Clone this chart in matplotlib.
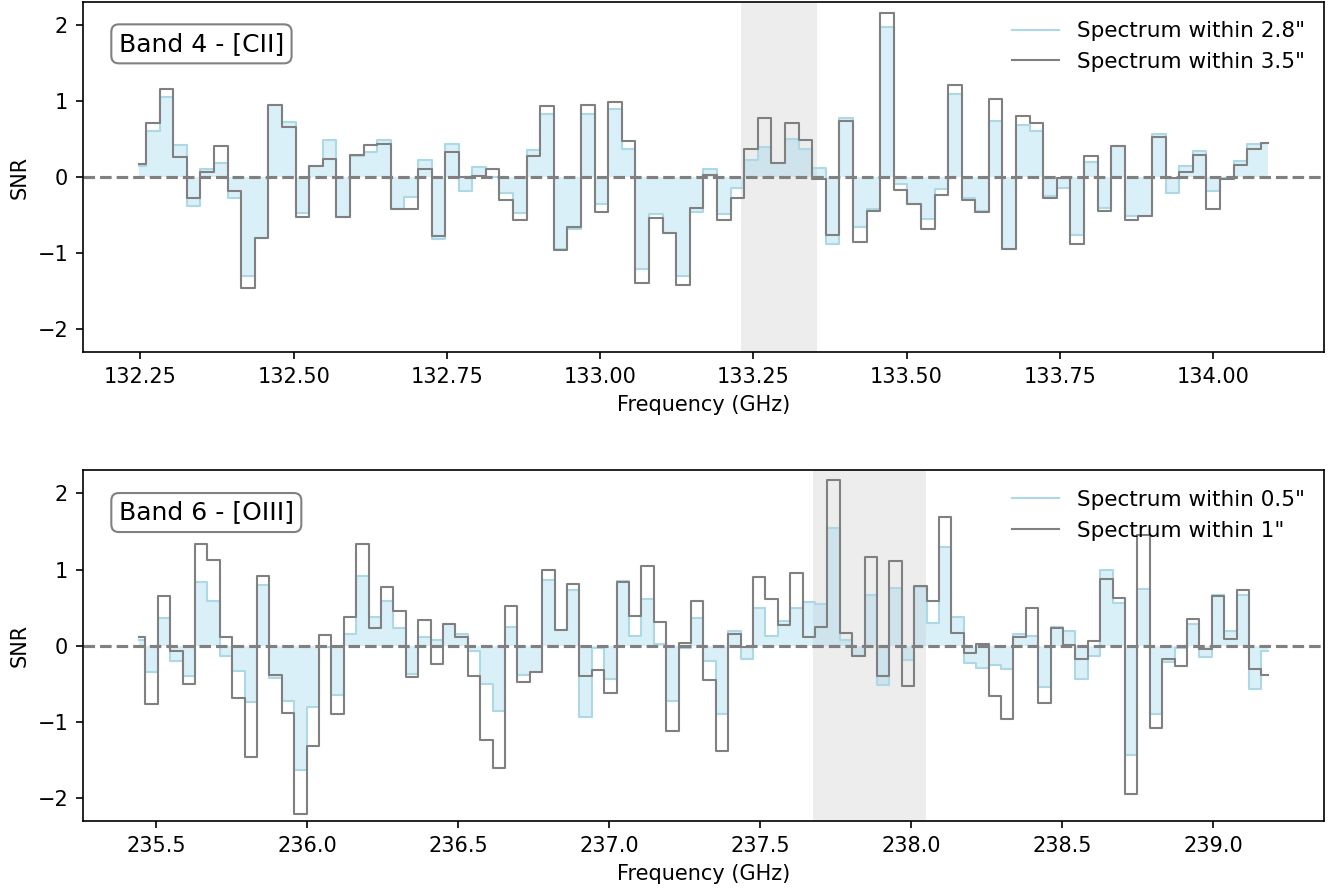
import numpy as np
import matplotlib
matplotlib.use("Agg")
import matplotlib.pyplot as plt

# Band 4 - [CII] spectrum (SNR per channel)
b4_freq_start = 132.248
b4_freq_end = 134.089
b4_inner = [0.15, 0.61, 1.05, 0.42, -0.38, 0.11, 0.18, -0.27, -1.30, -0.80, 0.94, 0.72, -0.47, 0.14, 0.48, -0.53, 0.28,
            0.33, 0.48, -0.42, -0.26, 0.23, -0.81, 0.44, -0.18, 0.13, 0.00, -0.21, -0.47, 0.36, 0.83, -0.94, -0.68,
            0.83, -0.36, 0.89, 0.37, -1.21, -0.48, -0.73, -1.30, -0.46, 0.10, -0.48, -0.14, 0.23, 0.39, 0.19, 0.50, 0.37, 0.12,
            -0.88, 0.77, -0.66, -0.42, 1.97, -0.09, -0.36, -0.55, -0.16, 1.09, -0.27, -0.44, 0.74, -0.94, 0.68, 0.61,
            -0.25, -0.14, -0.76, 0.20, -0.40, 0.41, -0.51, -0.51, 0.56, -0.21, 0.15, 0.34, -0.18, -0.01, 0.21, 0.44, 0.45]
b4_outer = [0.17, 0.71, 1.15, 0.26, -0.27, 0.06, 0.41, -0.18, -1.46, -0.80, 0.94, 0.66, -0.52, 0.15, 0.24, -0.53, 0.29,
            0.42, 0.44, -0.42, -0.42, 0.11, -0.77, 0.33, 0.00, 0.02, 0.10, -0.30, -0.57, 0.28, 0.93, -0.96, -0.66,
            0.95, -0.46, 0.98, 0.47, -1.39, -0.54, -0.73, -1.42, -0.40, 0.03, -0.57, -0.28, 0.37, 0.78, 0.19, 0.71, 0.49, -0.03,
            -0.76, 0.73, -0.85, -0.45, 2.15, -0.17, -0.36, -0.68, -0.24, 1.21, -0.30, -0.46, 1.02, -0.94, 0.80, 0.71,
            -0.28, -0.01, -0.88, 0.27, -0.44, 0.41, -0.57, -0.51, 0.53, -0.01, 0.07, 0.29, -0.42, -0.03, 0.16, 0.37, 0.45]
b4_line_window = (133.230, 133.354)

# Band 6 - [OIII]
b6_freq_start = 235.445
b6_freq_end = 239.179
b6_inner = [0.08, -0.35, 0.36, -0.20, -0.40, 0.83, 0.59, -0.14, -0.33, -0.74, 0.80, -0.42, -0.72, -1.63, -0.81, -0.01, -0.65, 0.15, 0.91,
            0.38, 0.59, 0.23, -0.37, 0.12, 0.07, 0.29, 0.16, -0.07, -0.50, -0.86, 0.25, -0.38, -0.34, 0.86, 0.21, 0.73, -0.94,
            -0.03, -0.44, 0.85, 0.13, 0.61, 0.02, -0.72, -0.03, 0.36, -0.20, -0.90, 0.19, -0.17, 0.50, 0.13, 0.33, 0.50, 0.58, 0.55,
            1.54, 0.07, -0.14, 0.67, -0.52, 0.76, -0.19, 0.77, 0.30, 1.30, 0.38, -0.22, -0.29, -0.25, -0.31, 0.15, 0.13, -0.54,
            0.24, 0.20, -0.44, -0.14, 0.99, 0.56, -1.44, 0.74, -0.89, -0.21, -0.03, 0.29, -0.15, 0.66, 0.19, 0.66, -0.57, -0.07]
b6_outer = [0.12, -0.76, 0.65, -0.07, -0.50, 1.34, 1.13, 0.11, -0.69, -1.46, 0.91, -0.39, -0.88, -2.21, -1.31, 0.14, -0.90, 0.38, 1.33,
            0.23, 0.77, 0.46, -0.41, 0.34, -0.24, 0.29, 0.11, -0.40, -1.24, -1.61, 0.52, -0.48, -0.34, 1.00, 0.21, 0.81, -0.40,
            -0.32, -0.62, 0.83, 0.39, 1.04, 0.31, -1.12, 0.03, 0.59, -0.45, -1.38, 0.16, -0.01, 0.90, 0.61, 0.27, 0.95, 0.11, 0.25,
            2.17, 0.17, -0.14, 1.16, -0.40, 1.11, -0.53, 0.78, 0.59, 1.69, 0.17, -0.10, 0.02, -0.66, -0.96, 0.11, 0.49, -0.75,
            0.23, 0.01, -0.17, 0.06, 0.87, 0.62, -1.94, 1.45, -1.08, -0.18, -0.26, 0.35, -0.04, 0.65, 0.09, 0.73, -0.30, -0.38]
b6_line_window = (237.676, 238.047)

panels = [
    ("Band 4 - [CII]", b4_freq_start, b4_freq_end, b4_inner, b4_outer, b4_line_window,
     'Spectrum within 2.8"', 'Spectrum within 3.5"'),
    ("Band 6 - [OIII]", b6_freq_start, b6_freq_end, b6_inner, b6_outer, b6_line_window,
     'Spectrum within 0.5"', 'Spectrum within 1"'),
]

fig, axes = plt.subplots(2, 1, figsize=(1336 / 150, 890 / 150), dpi=150)
fig.subplots_adjust(left=0.062, right=0.991, top=0.998, bottom=0.0775, hspace=0.337)

for ax, (title, f0, f1, inner, outer, window, lab_in, lab_out) in zip(axes, panels):
    freq = np.linspace(f0, f1, len(inner))
    ax.axvspan(window[0], window[1], color='lightgray', alpha=0.4, lw=0)
    ax.fill_between(freq, 0, inner, step='mid', color='skyblue', alpha=0.3, lw=0)
    ax.step(freq, inner, where='mid', color='lightblue', lw=1, label=lab_in)
    ax.step(freq, outer, where='mid', color='gray', lw=1, label=lab_out)
    ax.axhline(0, color='gray', ls='--', lw=1.5)
    ax.set_ylim(-2.3, 2.3)
    ax.set_xlabel("Frequency (GHz)")
    ax.set_ylabel("SNR")
    ax.legend(loc='upper right', frameon=False, fontsize=10.3, handlelength=2.2)
    ax.text(0.029, 0.88, title, transform=ax.transAxes, fontsize=12, va='center',
            bbox=dict(boxstyle='round', facecolor='white', edgecolor='gray'))

fig.savefig("out.png", dpi=150)
